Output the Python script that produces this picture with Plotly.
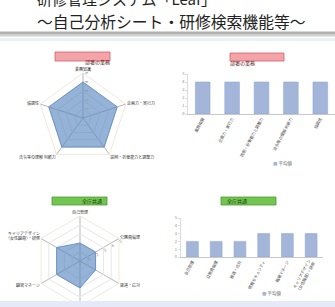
import plotly.graph_objects as go

W, H = 335, 307

# ---------------- data ----------------
top_title = "研修管理システム「Leaf」"
sub_title = "～自己分析シート・研修検索機能等～"

dept_box = "部署の業務"
common_box = "全庁共通"

dept_labels = ["業務知識", "企画力・実行力", "説明・折衝能力と調整力", "法令等の理解 判断力", "協調性"]
dept_values = [4, 4, 4, 4, 4]

common_labels = ["自己管理", "公務員倫理", "接遇・応対", "情報セキュリティ", "職場マネージ", "キャリアデザイン<br>（女性職員）・研修"]
common_values = [2, 2, 2, 3, 3, 3]

legend_name = "平均値"
radial_ticks = [1, 2, 3, 4, 5]

FONT = "Noto Sans CJK JP"


def fx(px):
    return px / W


def fy(py):
    return 1 - py / H


fig = go.Figure()

# ---------------- radar charts ----------------
fill_col = "rgba(79,129,189,0.6)"
edge_col = "#5b85c0"

fig.add_trace(go.Scatterpolar(
    r=dept_values + dept_values[:1], theta=dept_labels + dept_labels[:1],
    fill="toself", fillcolor=fill_col, line=dict(color=edge_col, width=0.8),
    mode="lines", showlegend=False, subplot="polar"))

fig.add_trace(go.Scatterpolar(
    r=common_values + common_values[:1], theta=common_labels + common_labels[:1],
    fill="toself", fillcolor=fill_col, line=dict(color=edge_col, width=0.8),
    mode="lines", showlegend=False, subplot="polar2"))


def polar_layout(cx, cy, R, radial_angle):
    return dict(
        domain=dict(x=[fx(cx - R), fx(cx + R)], y=[fy(cy + R), fy(cy - R)]),
        gridshape="linear",
        bgcolor="rgba(0,0,0,0)",
        radialaxis=dict(range=[0, 5], tickvals=radial_ticks, showline=False,
                        angle=radial_angle, tickangle=0,
                        gridcolor="#e6e6e6", gridwidth=0.6,
                        tickfont=dict(size=4, color="#8a8a8a", family=FONT),
                        ticks=""),
        angularaxis=dict(rotation=90, direction="clockwise",
                         linecolor="#ece2d4", linewidth=0.8,
                         gridcolor="#b8b8b8", gridwidth=0.6,
                         tickfont=dict(size=4, color="#333", family=FONT),
                         ticks=""),
    )


# ---------------- bar charts ----------------
bar_col = "#a3b6da"
bar_edge = "#8aa0cc"

fig.add_trace(go.Bar(x=dept_labels, y=dept_values, name=legend_name,
                     marker=dict(color=bar_col, line=dict(color=bar_edge, width=0.5)),
                     xaxis="x", yaxis="y", showlegend=False))
fig.add_trace(go.Bar(x=common_labels, y=common_values, name=legend_name,
                     marker=dict(color=bar_col, line=dict(color=bar_edge, width=0.5)),
                     xaxis="x2", yaxis="y2", showlegend=False))

axis_font = dict(size=4, color="#444", family=FONT)
ytick_font = dict(size=4, color="#8a8a8a", family=FONT)


def xaxis_layout(x0, x1, anchor):
    return dict(domain=[fx(x0), fx(x1)], anchor=anchor, tickangle=-62,
                tickfont=axis_font, showline=True, linecolor="#c8c8c8",
                linewidth=0.8, showgrid=False, ticks="", automargin=False)


def yaxis_layout(y0, y1, anchor):
    return dict(domain=[fy(y1), fy(y0)], anchor=anchor, range=[0, 5], dtick=1,
                tickfont=ytick_font, showline=True, linecolor="#dcdcdc",
                linewidth=0.6, showgrid=False, ticks="outside", ticklen=2,
                tickcolor="#dcdcdc", zeroline=False, automargin=False)


# ---------------- layout ----------------
shapes = [
    # separator band under title
    dict(type="rect", xref="paper", yref="paper", x0=0, x1=1, y0=fy(34), y1=fy(31.5),
         fillcolor="#b0b0b0", line=dict(width=0), layer="above"),
    dict(type="rect", xref="paper", yref="paper", x0=0, x1=1, y0=fy(36.5), y1=fy(34),
         fillcolor="#d0d0d0", line=dict(width=0), layer="above"),
    dict(type="rect", xref="paper", yref="paper", x0=0, x1=1, y0=fy(41), y1=fy(38),
         fillcolor="#eceef8", line=dict(width=0), layer="above"),
    # bottom lavender band
    dict(type="rect", xref="paper", yref="paper", x0=0, x1=1, y0=0, y1=fy(301),
         fillcolor="#e6eaf8", line=dict(width=0), layer="above"),
    # header boxes
    dict(type="rect", xref="paper", yref="paper", x0=fx(55), x1=fx(110), y0=fy(61), y1=fy(52),
         fillcolor="#f4a3a8", line=dict(color="#d0606a", width=0.8)),
    dict(type="rect", xref="paper", yref="paper", x0=fx(230), x1=fx(284), y0=fy(61), y1=fy(53),
         fillcolor="#f4a3a8", line=dict(color="#d0606a", width=0.8)),
    dict(type="rect", xref="paper", yref="paper", x0=fx(52), x1=fx(107), y0=fy(205), y1=fy(197),
         fillcolor="#72c650", line=dict(color="#4c9a34", width=0.8)),
    dict(type="rect", xref="paper", yref="paper", x0=fx(221), x1=fx(276), y0=fy(205), y1=fy(197),
         fillcolor="#72c650", line=dict(color="#4c9a34", width=0.8)),
]

box_font = dict(size=5, color="#5a2020", family=FONT)
box_font_g = dict(size=5, color="#1f3d14", family=FONT)
legend_text = f"<span style='color:{bar_col}'>■</span> {legend_name}"
legend_font = dict(size=4.5, color="#666", family=FONT)

annotations = [
    dict(text=top_title, xref="paper", yref="paper", x=fx(35), y=fy(-1.5), xanchor="left",
         yanchor="middle", showarrow=False, font=dict(size=15, color="#222", family=FONT)),
    dict(text=sub_title, xref="paper", yref="paper", x=fx(35), y=fy(21), xanchor="left",
         yanchor="middle", showarrow=False, font=dict(size=15.8, color="#222", family=FONT)),
    dict(text=dept_box, xref="paper", yref="paper", x=fx(82.5), y=fy(56.5), showarrow=False, font=box_font),
    dict(text=dept_box, xref="paper", yref="paper", x=fx(257), y=fy(57), showarrow=False, font=box_font),
    dict(text=common_box, xref="paper", yref="paper", x=fx(79.5), y=fy(201), showarrow=False, font=box_font_g),
    dict(text=common_box, xref="paper", yref="paper", x=fx(248.5), y=fy(201), showarrow=False, font=box_font_g),
    dict(text=legend_text, xref="paper", yref="paper", x=fx(295), y=fy(163), showarrow=False, font=legend_font),
    dict(text=legend_text, xref="paper", yref="paper", x=fx(284), y=fy(299), showarrow=False, font=legend_font),
]

fig.update_layout(
    width=W, height=H,
    margin=dict(l=0, r=0, t=0, b=0),
    paper_bgcolor="white", plot_bgcolor="white",
    font=dict(family=FONT),
    showlegend=False,
    polar=polar_layout(83, 118, 45, 60),
    polar2=polar_layout(80, 261, 45, 60),
    xaxis=xaxis_layout(188, 335, "y"),
    yaxis=yaxis_layout(74, 114, "x"),
    xaxis2=xaxis_layout(180.6, 323, "y2"),
    yaxis2=yaxis_layout(218, 257, "x2"),
    bargap=0.5,
    shapes=shapes,
    annotations=annotations,
)

fig.write_html("out.html", config={"displayModeBar": False},
               post_script="document.body.style.margin='0';document.body.style.overflow='hidden';")
